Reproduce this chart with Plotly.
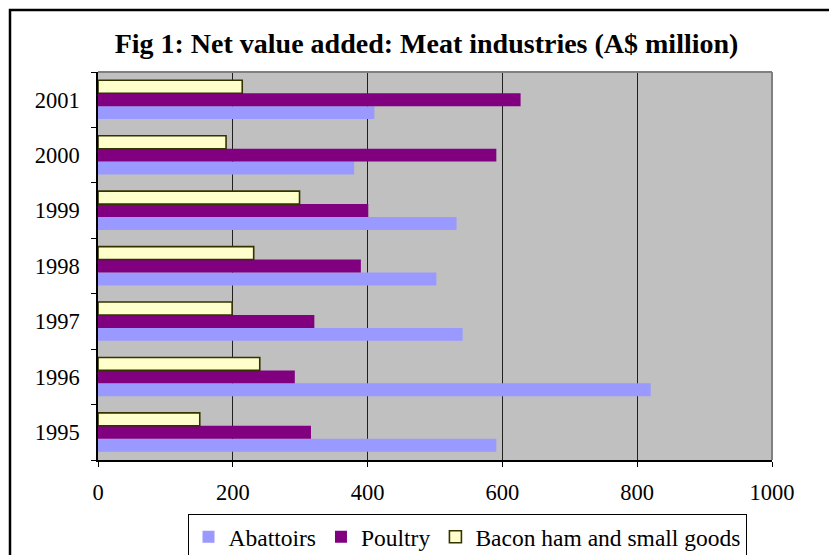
import plotly.graph_objects as go

years = ["1995", "1996", "1997", "1998", "1999", "2000", "2001"]
abattoirs = [591, 820, 541, 502, 532, 380, 410]
poultry = [316, 292, 321, 390, 401, 591, 627]
bacon = [151, 240, 199, 231, 299, 190, 214]
x_ticks = [0, 200, 400, 600, 800, 1000]

W, H = 829, 555
L, R, T, B = 98, 57, 72, 95
pw, ph = W - L - R, H - T - B

def px_x(p):
    return (p - L) / pw

def px_y(p):
    return (H - B - p) / ph

font = "Liberation Serif, Times New Roman, serif"

fig = go.Figure()
fig.add_trace(go.Bar(y=years, x=abattoirs, orientation="h", name="Abattoirs",
                     marker=dict(color="#9999FF", line=dict(width=0))))
fig.add_trace(go.Bar(y=years, x=poultry, orientation="h", name="Poultry",
                     marker=dict(color="#800080", line=dict(width=0))))
fig.add_trace(go.Bar(y=years, x=bacon, orientation="h", name="Bacon ham and small goods",
                     marker=dict(color="#FFFFCC", line=dict(color="#333300", width=1.6))))

fig.update_layout(
    width=W, height=H,
    margin=dict(l=L, r=R, t=T, b=B, autoexpand=False),
    paper_bgcolor="white",
    plot_bgcolor="#C0C0C0",
    barmode="group",
    bargap=0.3,
    bargroupgap=0,
    font=dict(family=font, color="black", size=22),
    title=dict(text="<b>Fig 1: Net value added: Meat industries (A$ million)</b>",
               font=dict(family=font, size=28, color="black"),
               x=426.5 / W, xanchor="center", xref="container",
               y=1 - 43 / H, yanchor="middle", yref="container"),
    showlegend=True,
    legend=dict(orientation="h", x=px_x(467), xanchor="center",
                y=px_y(514), yanchor="top",
                bgcolor="white", bordercolor="black", borderwidth=1,
                font=dict(family=font, size=23.5, color="black"),
                traceorder="normal"),
    xaxis=dict(range=[0, 1000], tickvals=x_ticks, ticktext=[str(v) for v in x_ticks],
               showgrid=True, gridcolor="#202020", gridwidth=1,
               zeroline=False, showline=True, linecolor="black", linewidth=1.5,
               ticks="outside", ticklen=5, tickcolor="black", tickwidth=1,
               ticklabelstandoff=6,
               tickfont=dict(family=font, size=22.5, color="black"),
               fixedrange=True),
    yaxis=dict(type="category", categoryorder="array", categoryarray=years,
               showgrid=False, zeroline=False,
               showline=True, linecolor="black", linewidth=1.5,
               ticks="outside", ticklen=5, tickcolor="black", tickwidth=1,
               tickson="boundaries", ticklabelstandoff=12,
               tickfont=dict(family=font, size=22.5, color="black"),
               fixedrange=True),
    shapes=[
        dict(type="line", xref="paper", yref="paper", x0=0, x1=1, y0=1, y1=1,
             line=dict(color="#808080", width=2)),
        dict(type="line", xref="paper", yref="paper", x0=1, x1=1, y0=0, y1=1,
             line=dict(color="#808080", width=2)),
        dict(type="rect", xref="paper", yref="paper",
             x0=px_x(10), x1=px_x(1000), y0=px_y(700), y1=px_y(10),
             line=dict(color="black", width=2.5), fillcolor="rgba(0,0,0,0)"),
    ],
)

fig.write_html("out.html")
